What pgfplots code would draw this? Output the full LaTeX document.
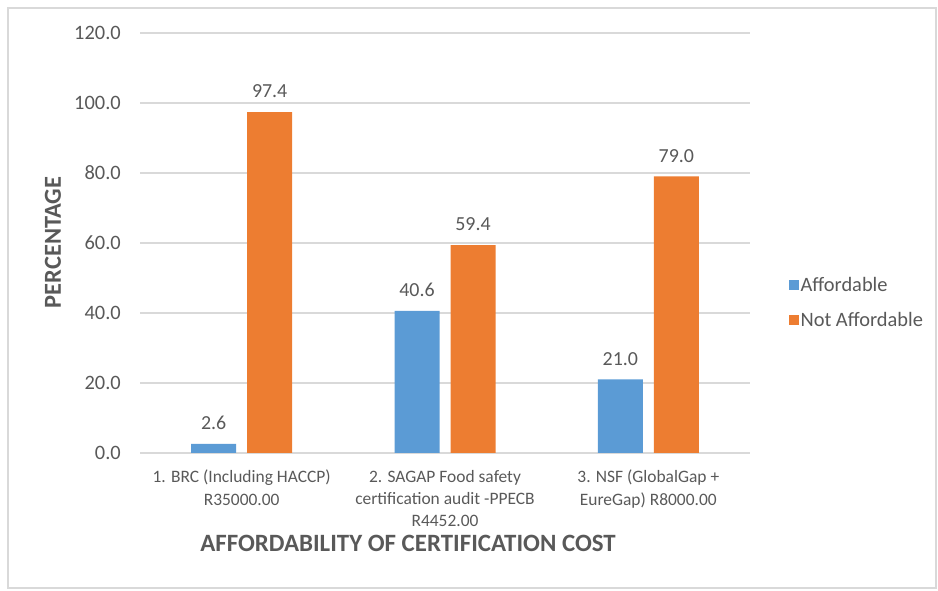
\documentclass[border=0pt]{standalone}
\usepackage{pgfplots}
\pgfplotsset{compat=1.18}
\usepackage{fontspec}
\setmainfont{Carlito}
\definecolor{xblue}{HTML}{5B9BD5}
\definecolor{xorange}{HTML}{ED7D31}
\definecolor{txt}{HTML}{595959}
\definecolor{gridc}{HTML}{D9D9D9}
\begin{document}
\begin{tikzpicture}[x=1bp,y=1bp]
\path (0,0) rectangle (938,591);
\draw[gridc, line width=1.5bp] (8,3) rectangle (936,583);
\begin{axis}[
  at={(140bp,138bp)}, anchor=south west, scale only axis,
  width=610bp, height=420bp,
  ymin=0, ymax=120, ytick={0,20,...,120},
  xmin=-0.5, xmax=2.5, xtick={0,1,2},
  xticklabels={{1. BRC (Including HACCP)\\R35000.00},{2. SAGAP Food safety\\certification audit -PPECB\\R4452.00},{3. NSF (GlobalGap +\\EureGap) R8000.00}},
  enlargelimits=false, clip=false,
  axis line style={draw=none}, tick style={draw=none},
  ymajorgrids, grid style={gridc, line width=1.2bp},
  yticklabel style={font=\fontsize{20.5}{24}\selectfont, text=txt, inner sep=0pt, anchor=east, xshift=-19bp},
  /pgf/number format/assume math mode=true,
  y tick label style={/pgf/number format/.cd, fixed, fixed zerofill, precision=1},
  xticklabel style={font=\fontsize{17.5}{22.5}\selectfont, text=txt, align=center, inner sep=0pt, anchor=north, yshift=-12.5bp},
  ybar=11bp, bar width=45bp,
  nodes near coords,
  every node near coord/.append style={font=\fontsize{20}{24}\selectfont, text=txt, inner sep=0pt, anchor=south, yshift=14bp, /pgf/number format/.cd, fixed, fixed zerofill, precision=1, assume math mode=true},
  legend style={at={(rel axis cs:1.058,0.358)}, anchor=west, draw=none, fill=none, font=\fontsize{20.5}{24}\selectfont, text=txt, row sep=16bp, cells={anchor=west}},
  legend cell align=left,
  legend image code/.code={\fill[#1, draw=none] (0bp,-5bp) rectangle (10bp,5bp);},
]
\addplot[fill=xblue, draw=none] coordinates {(0,2.6) (1,40.6) (2,21.0)};
\addplot[fill=xorange, draw=none] coordinates {(0,97.4) (1,59.4) (2,79.0)};
\legend{Affordable, Not Affordable}
\end{axis}
\node[font=\bfseries\fontsize{25}{28}\selectfont, text=txt, inner sep=0pt] at (408,47.5) {AFFORDABILITY OF CERTIFICATION COST};
\node[font=\bfseries\fontsize{24.5}{28}\selectfont, text=txt, rotate=90] at (53,348.5) {PERCENTAGE};
\end{tikzpicture}
\end{document}
